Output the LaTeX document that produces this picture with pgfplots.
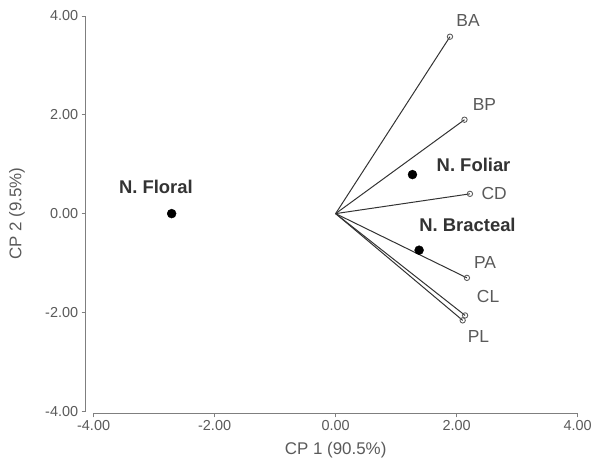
\documentclass[border=0pt]{standalone}
\usepackage{fontspec}
\setmainfont{Liberation Sans}
\usepackage{pgfplots}
\pgfplotsset{compat=1.18}
\definecolor{axgray}{HTML}{7F7F7F}
\definecolor{txtgray}{HTML}{5A5A5A}
\definecolor{vecgray}{HTML}{333333}
\begin{document}
\begin{tikzpicture}
\begin{axis}[
  scale only axis, width=486pt, height=397pt,
  xmin=-4, xmax=4, ymin=-4, ymax=4,
  axis x line*=bottom, axis y line*=left,
  axis x line shift=2pt, axis y line shift=8pt,
  axis line style={axgray, line width=0.8pt, -},
  xtick={-4,-2,0,2,4}, ytick={-4,-2,0,2,4},
  tick align=outside, major tick length=4pt,
  tick style={axgray, line width=0.8pt},
  /pgf/number format/assume math mode=true,
  /pgf/number format/fixed, /pgf/number format/fixed zerofill,
  /pgf/number format/precision=2,
  ticklabel style={font=\fontsize{14.5}{16}\selectfont, text=txtgray},
  xlabel={CP 1 (90.5\%)}, ylabel={CP 2 (9.5\%)},
  every axis x label/.style={at={(rel axis cs:0.5,0)}, yshift=-39pt, anchor=center},
  every axis y label/.style={at={(rel axis cs:0,0.5)}, xshift=-77pt, rotate=90, anchor=center},
  label style={font=\fontsize{17}{20}\selectfont, text=txtgray},
  clip=false,
]
% vectors
\addplot[vecgray, line width=1pt, no marks] coordinates {(0,0) (1.89,3.58)};
\addplot[vecgray, line width=1pt, no marks] coordinates {(0,0) (2.13,1.90)};
\addplot[vecgray, line width=1pt, no marks] coordinates {(0,0) (2.22,0.40)};
\addplot[vecgray, line width=1pt, no marks] coordinates {(0,0) (2.17,-1.30)};
\addplot[vecgray, line width=1pt, no marks] coordinates {(0,0) (2.14,-2.06)};
\addplot[vecgray, line width=1pt, no marks] coordinates {(0,0) (2.10,-2.16)};
% vector ends
\addplot[only marks, mark=o, mark size=2.7pt, mark options={draw=vecgray!80, fill=white, line width=0.9pt}]
  coordinates {(1.89,3.58) (2.13,1.90) (2.22,0.40) (2.17,-1.30) (2.14,-2.06) (2.10,-2.16)};
% groups
\addplot[only marks, mark=*, mark size=4.5pt, mark options={fill=black, draw=black}]
  coordinates {(-2.71,0.0) (1.27,0.79) (1.38,-0.74)};
% labels
\begin{scope}[every node/.style={font=\fontsize{17.5}{20}\selectfont, text=txtgray}]
\node at (axis cs:2.19,3.90) {BA};
\node at (axis cs:2.46,2.20) {BP};
\node at (axis cs:2.62,0.40) {CD};
\node at (axis cs:2.47,-0.99) {PA};
\node at (axis cs:2.52,-1.68) {CL};
\node at (axis cs:2.36,-2.48) {PL};
\end{scope}
\begin{scope}[every node/.style={font=\fontsize{18.5}{21}\selectfont\bfseries, text=black!80}]
\node at (axis cs:-2.97,0.55) {N. Floral};
\node at (axis cs:2.28,0.99) {N. Foliar};
\node at (axis cs:2.18,-0.22) {N. Bracteal};
\end{scope}
\path (rel axis cs:0,0) ++(-94pt,-54pt) coordinate (bbl);
\path (rel axis cs:1,1) ++(15pt,16pt) coordinate (btr);
\end{axis}
\end{tikzpicture}
\end{document}
